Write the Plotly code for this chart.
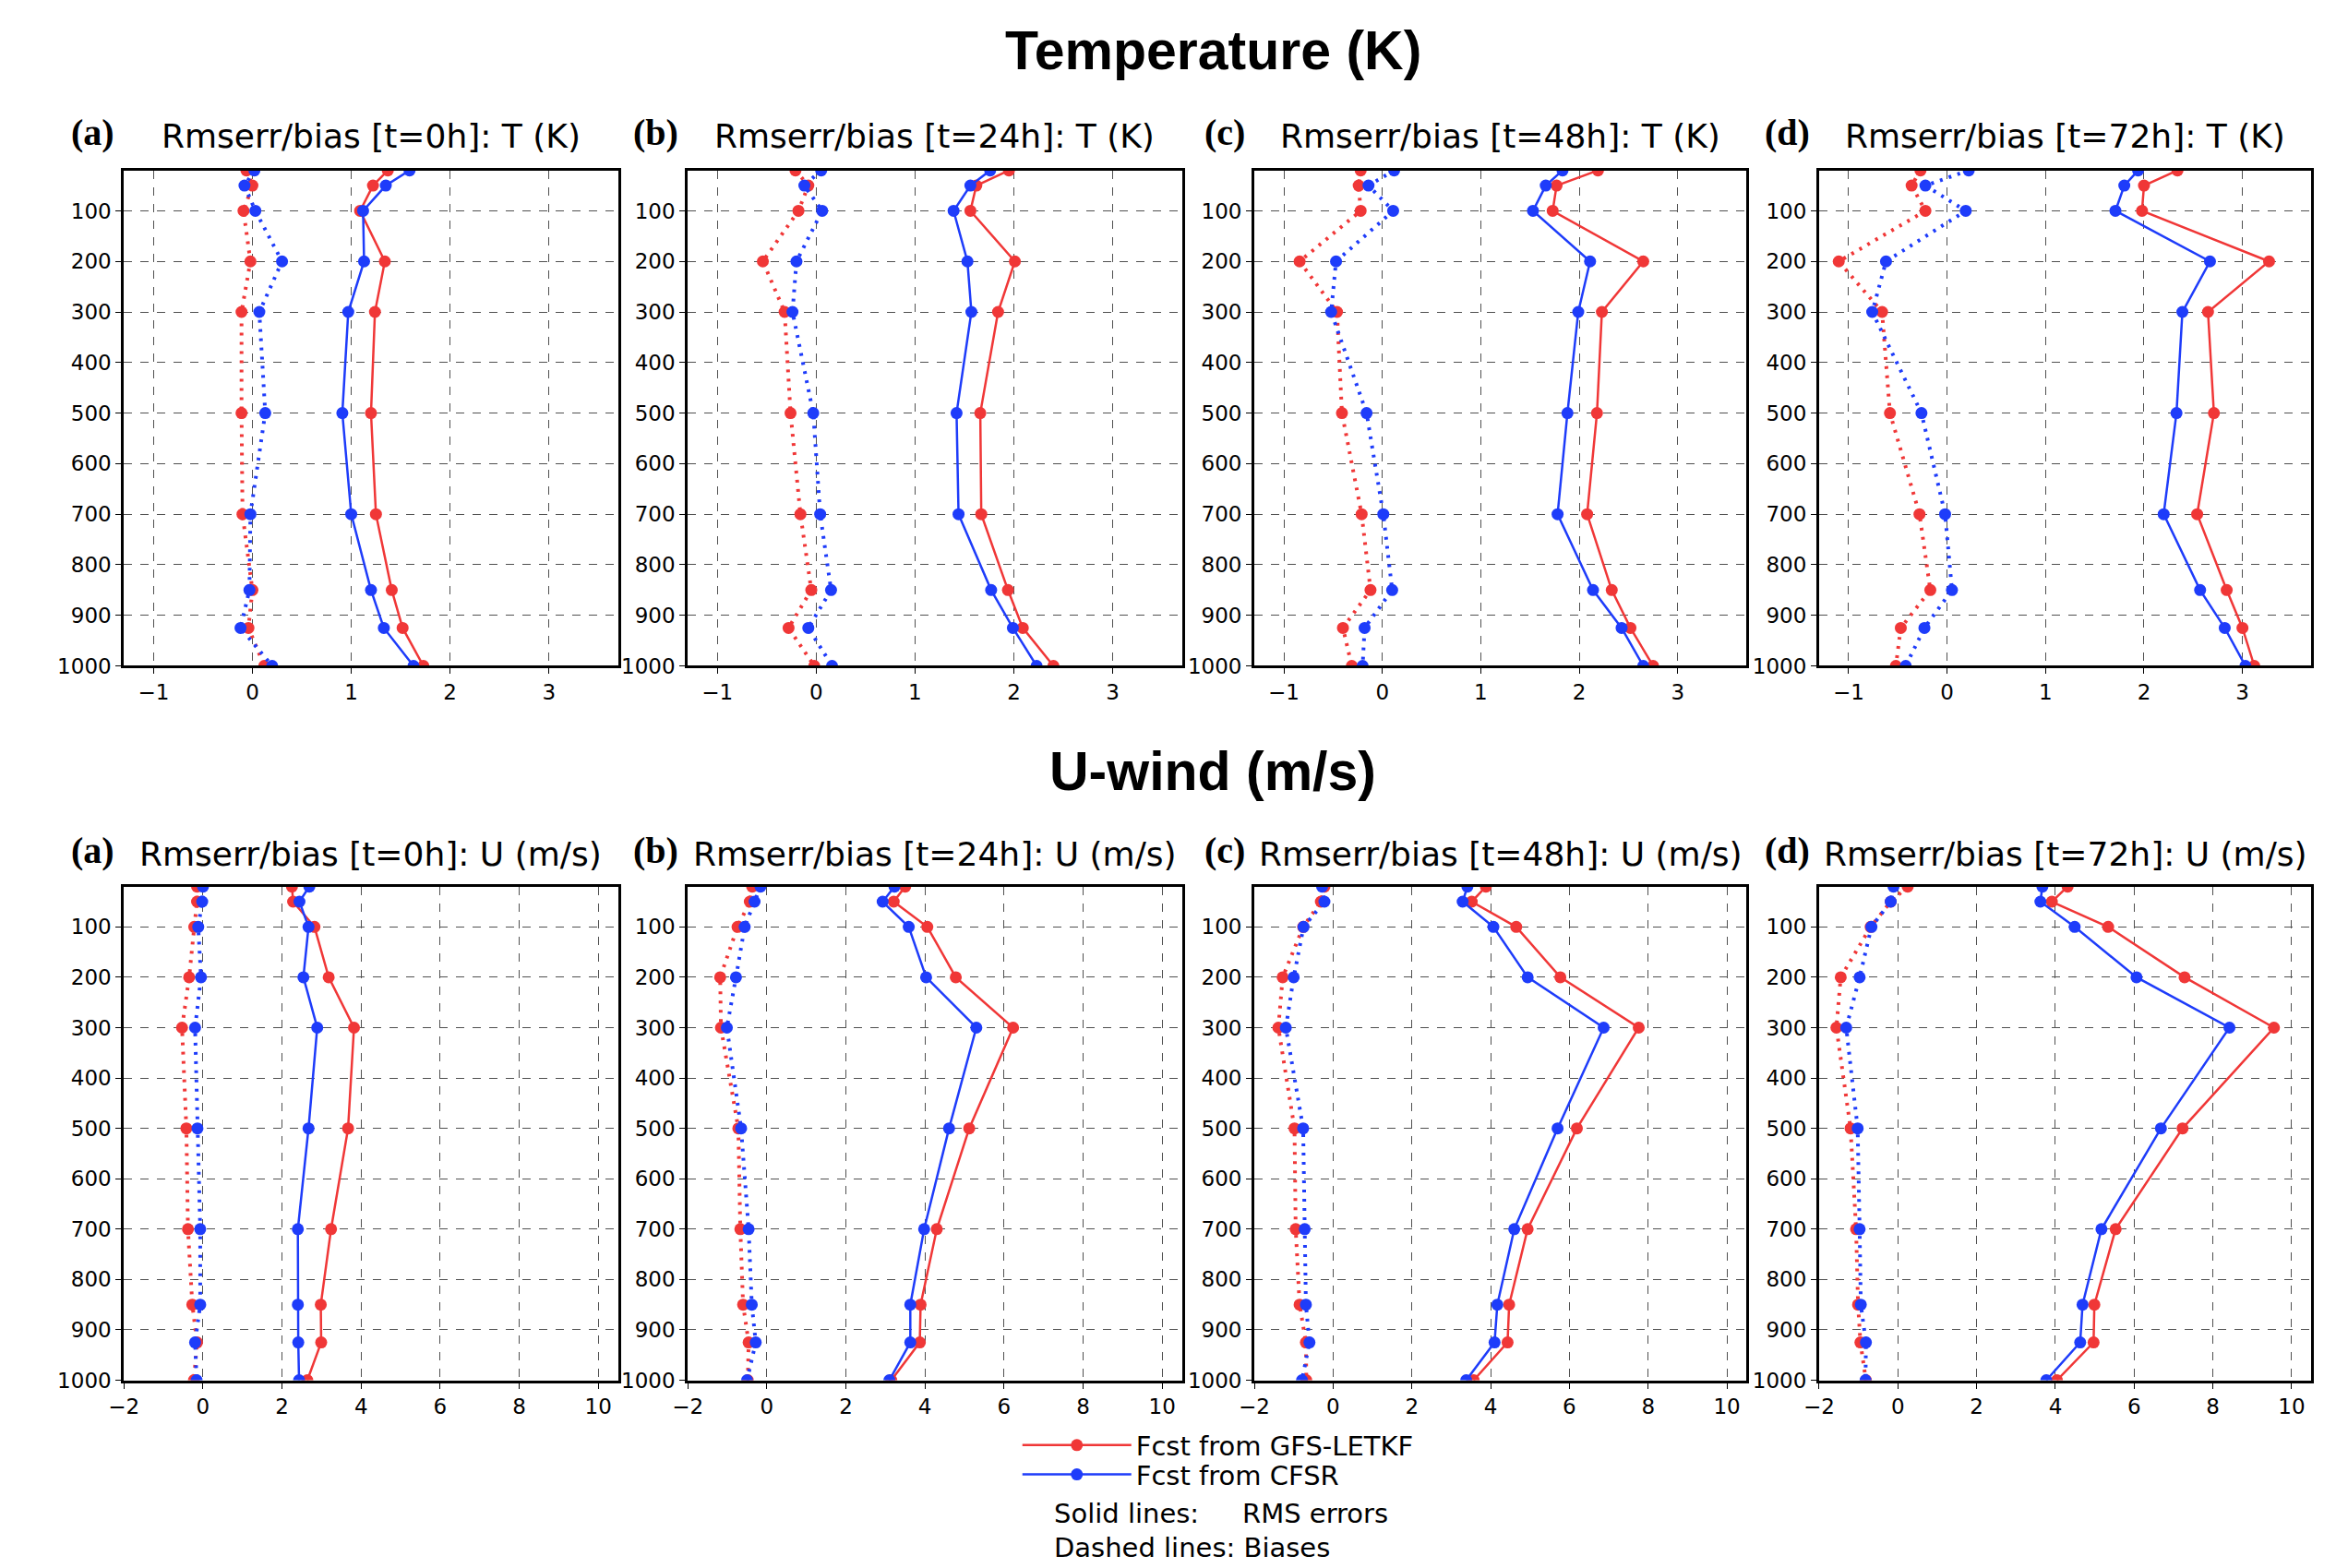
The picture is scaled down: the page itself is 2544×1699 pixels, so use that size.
import plotly.graph_objects as go

# ---------------- data ----------------
levels = [20, 50, 100, 200, 300, 500, 700, 850, 925, 1000]
leads = ["0h", "24h", "48h", "72h"]
panel_letters = ["(a)", "(b)", "(c)", "(d)"]
y_ticks = [100, 200, 300, 400, 500, 600, 700, 800, 900, 1000]
t_x_ticks = [-1, 0, 1, 2, 3]
u_x_ticks = [-2, 0, 2, 4, 6, 8, 10]

# Temperature (K): rows = 0h, 24h, 48h, 72h
t_rms_gfs = [
    [1.37, 1.22, 1.09, 1.34, 1.24, 1.20, 1.25, 1.41, 1.52, 1.73],
    [1.95, 1.62, 1.56, 2.01, 1.84, 1.66, 1.67, 1.94, 2.09, 2.40],
    [2.19, 1.77, 1.73, 2.65, 2.23, 2.18, 2.08, 2.33, 2.52, 2.75],
    [2.34, 2.00, 1.98, 3.27, 2.65, 2.71, 2.54, 2.84, 3.00, 3.12],
]
t_rms_cfsr = [
    [1.59, 1.35, 1.12, 1.13, 0.97, 0.91, 1.00, 1.20, 1.33, 1.63],
    [1.76, 1.56, 1.39, 1.53, 1.57, 1.42, 1.44, 1.77, 1.99, 2.23],
    [1.83, 1.66, 1.53, 2.11, 1.99, 1.88, 1.78, 2.14, 2.43, 2.65],
    [1.94, 1.80, 1.71, 2.67, 2.39, 2.33, 2.20, 2.57, 2.82, 3.03],
]
t_bias_gfs = [
    [-0.06, 0.00, -0.09, -0.02, -0.11, -0.11, -0.10, 0.00, -0.04, 0.12],
    [-0.21, -0.08, -0.18, -0.54, -0.32, -0.26, -0.16, -0.05, -0.28, -0.02],
    [-0.22, -0.24, -0.22, -0.84, -0.46, -0.41, -0.21, -0.12, -0.40, -0.31],
    [-0.27, -0.36, -0.22, -1.10, -0.66, -0.58, -0.28, -0.17, -0.47, -0.52],
]
t_bias_cfsr = [
    [0.02, -0.08, 0.03, 0.30, 0.07, 0.13, -0.02, -0.03, -0.12, 0.20],
    [0.05, -0.12, 0.06, -0.20, -0.24, -0.03, 0.04, 0.15, -0.08, 0.16],
    [0.12, -0.14, 0.11, -0.47, -0.52, -0.16, 0.01, 0.10, -0.18, -0.20],
    [0.22, -0.22, 0.19, -0.62, -0.76, -0.26, -0.02, 0.05, -0.23, -0.42],
]

# U-wind (m/s)
u_rms_gfs = [
    [2.25, 2.28, 2.82, 3.18, 3.82, 3.67, 3.24, 2.98, 2.99, 2.64],
    [3.50, 3.21, 4.06, 4.78, 6.23, 5.12, 4.30, 3.89, 3.87, 3.15],
    [3.88, 3.52, 4.65, 5.77, 7.76, 6.19, 4.94, 4.47, 4.43, 3.57],
    [4.31, 3.91, 5.34, 7.28, 9.55, 7.23, 5.53, 4.99, 4.97, 4.04],
]
u_rms_cfsr = [
    [2.69, 2.44, 2.67, 2.54, 2.89, 2.67, 2.40, 2.40, 2.41, 2.43],
    [3.23, 2.93, 3.59, 4.03, 5.30, 4.61, 3.98, 3.63, 3.63, 3.10],
    [3.41, 3.29, 4.07, 4.94, 6.87, 5.70, 4.60, 4.17, 4.10, 3.38],
    [3.67, 3.62, 4.49, 6.06, 8.42, 6.68, 5.17, 4.69, 4.63, 3.77],
]
u_bias_gfs = [
    [-0.15, -0.15, -0.22, -0.35, -0.53, -0.42, -0.38, -0.27, -0.15, -0.23],
    [-0.37, -0.43, -0.74, -1.18, -1.16, -0.72, -0.67, -0.60, -0.46, -0.48],
    [-0.22, -0.31, -0.76, -1.28, -1.39, -0.98, -0.95, -0.85, -0.69, -0.68],
    [0.25, -0.18, -0.69, -1.45, -1.56, -1.20, -1.06, -1.01, -0.95, -0.81],
]
u_bias_cfsr = [
    [0.00, -0.02, -0.12, -0.05, -0.20, -0.14, -0.07, -0.07, -0.20, -0.16],
    [-0.16, -0.31, -0.56, -0.78, -1.01, -0.65, -0.46, -0.38, -0.28, -0.50],
    [-0.28, -0.22, -0.75, -1.00, -1.20, -0.76, -0.72, -0.69, -0.60, -0.79],
    [-0.11, -0.18, -0.67, -0.97, -1.31, -1.02, -0.97, -0.94, -0.81, -0.82],
]

# ---------------- layout ----------------
W, H = 2544, 1699
RED = "rgb(240,55,55)"
BLUE = "rgb(30,60,250)"
TICKFONT = dict(family="DejaVu Sans", size=23, color="black")

col_px = [(110, 649), (725, 1264), (1343, 1880), (1959, 2496)]
rows = [
    dict(unit="T (K)", top=178, bot=719, title_y=141, xr=[-1.3, 3.7], xt=t_x_ticks,
         rms=(t_rms_gfs, t_rms_cfsr), bias=(t_bias_gfs, t_bias_cfsr)),
    dict(unit="U (m/s)", top=960, bot=1499, title_y=925, xr=[-2, 10.5], xt=u_x_ticks,
         rms=(u_rms_gfs, u_rms_cfsr), bias=(u_bias_gfs, u_bias_cfsr)),
]

fig = go.Figure()
annotations = []
layout_axes = {}
k = 0
for r, row in enumerate(rows):
    for c in range(4):
        k += 1
        xname = "x" if k == 1 else f"x{k}"
        yname = "y" if k == 1 else f"y{k}"
        xkey = "xaxis" if k == 1 else f"xaxis{k}"
        ykey = "yaxis" if k == 1 else f"yaxis{k}"
        l, rr = col_px[c]
        common = dict(
            ticks="outside", ticklen=6, tickcolor="black", tickfont=TICKFONT,
            showline=True, linecolor="black", linewidth=3, mirror=True,
            showgrid=True, gridcolor="rgb(80,80,80)", griddash="dash", gridwidth=1,
            zeroline=False, fixedrange=True, tickmode="array",
        )
        layout_axes[xkey] = dict(domain=[l / W, rr / W], anchor=yname, range=row["xr"],
                                 tickvals=row["xt"], **common)
        layout_axes[ykey] = dict(domain=[1 - row["bot"] / H, 1 - row["top"] / H], anchor=xname,
                                 range=[1000, 20], tickvals=y_ticks, **common)
        gfs_rms, cfsr_rms = row["rms"]
        gfs_bias, cfsr_bias = row["bias"]
        first = (k == 1)
        # biases (dotted)
        for vals, col, nm in ((gfs_bias, RED, "GFS-LETKF bias"), (cfsr_bias, BLUE, "CFSR bias")):
            fig.add_trace(go.Scatter(
                x=vals[c], y=levels, xaxis=xname, yaxis=yname, mode="lines+markers",
                line=dict(color=col, width=4, dash="3px,7px"),
                marker=dict(color=col, size=13), showlegend=False, name=nm,
            ))
        # RMS errors (solid)
        for vals, col, nm, lg in ((gfs_rms, RED, "Fcst from GFS-LETKF", "legend"),
                                  (cfsr_rms, BLUE, "Fcst from CFSR", "legend2")):
            fig.add_trace(go.Scatter(
                x=vals[c], y=levels, xaxis=xname, yaxis=yname, mode="lines+markers",
                line=dict(color=col, width=2.5),
                marker=dict(color=col, size=13), showlegend=first, name=nm, legend=lg,
            ))
        cx = (l + rr) / 2
        annotations.append(dict(
            text=f"Rmserr/bias [t={leads[c]}]: {row['unit']}", xref="paper", yref="paper",
            x=cx / W, y=1 - row["title_y"] / H, xanchor="center", yanchor="middle",
            showarrow=False, font=dict(family="DejaVu Sans", size=36, color="black"),
        ))
        annotations.append(dict(
            text=f"<b>{panel_letters[c]}</b>", xref="paper", yref="paper",
            x=(l - 8) / W, y=1 - (row["title_y"] - 4) / H, xanchor="right", yanchor="middle",
            showarrow=False, font=dict(family="Liberation Serif", size=40, color="black"),
        ))

# main titles
annotations.append(dict(text="<b>Temperature (K)</b>", xref="paper", yref="paper",
                        x=1298 / W, y=1 - 47 / H, xanchor="center", yanchor="middle", showarrow=False,
                        font=dict(family="Liberation Sans", size=59, color="black")))
annotations.append(dict(text="<b>U-wind (m/s)</b>", xref="paper", yref="paper",
                        x=1298 / W, y=1 - 834 / H, xanchor="center", yanchor="middle", showarrow=False,
                        font=dict(family="Liberation Sans", size=59, color="black")))
# legend notes
NOTEFONT = dict(family="DejaVu Sans", size=29, color="black")
annotations.append(dict(text="Solid lines:", xref="paper", yref="paper", x=1122 / W, y=1 - 1645 / H,
                        xanchor="left", yanchor="middle", showarrow=False, font=NOTEFONT))
annotations.append(dict(text="RMS errors", xref="paper", yref="paper", x=1328 / W, y=1 - 1645 / H,
                        xanchor="left", yanchor="middle", showarrow=False, font=NOTEFONT))
annotations.append(dict(text="Dashed lines: Biases", xref="paper", yref="paper", x=1122 / W, y=1 - 1682 / H,
                        xanchor="left", yanchor="middle", showarrow=False, font=NOTEFONT))

legend_common = dict(xanchor="left", yanchor="middle", font=NOTEFONT,
                     bgcolor="rgba(0,0,0,0)", itemwidth=118, tracegroupgap=0)
fig.update_layout(
    width=W, height=H, margin=dict(l=0, r=0, t=0, b=0),
    paper_bgcolor="white", plot_bgcolor="white",
    showlegend=True,
    legend=dict(x=1085 / W, y=1 - 1570 / H, **legend_common),
    legend2=dict(x=1085 / W, y=1 - 1602 / H, **legend_common),
    annotations=annotations,
    **layout_axes,
)

fig.write_html("out.html")
